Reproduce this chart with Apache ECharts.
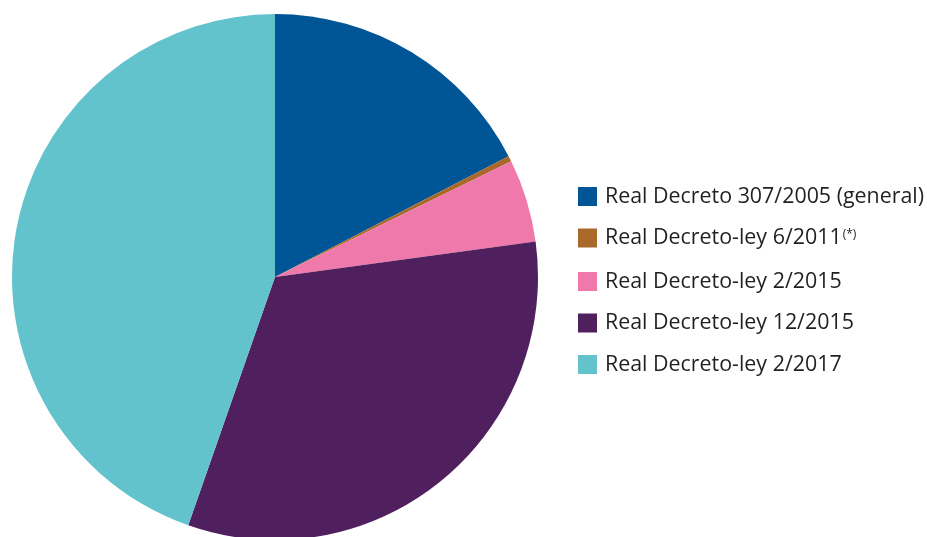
<!DOCTYPE html>
<html><head><meta charset="utf-8">
<script src="https://cdn.jsdelivr.net/npm/echarts@6/dist/echarts.min.js"></script>
<style>html,body{margin:0;padding:0;background:#fff}#c{width:927px;height:537px}</style>
</head><body><div id="c"></div>
<script>
const categories = ['Real Decreto 307/2005 (general)', 'Real Decreto-ley 6/2011', 'Real Decreto-ley 2/2015', 'Real Decreto-ley 12/2015', 'Real Decreto-ley 2/2017'];
const values = [17.4, 0.35, 5.1, 32.5, 44.65];
const colors = ['#005596', '#a8692a', '#ef79ab', '#4f1f5e', '#62c3cc'];
const notes = ['', '(*)', '', '', ''];

const chart = echarts.init(document.getElementById('c'), null, {renderer: 'canvas'});
chart.setOption({
  animation: false,
  color: colors,
  legend: {
    orient: 'vertical',
    left: 578,
    top: 186,
    padding: 0,
    itemWidth: 19,
    itemHeight: 19,
    itemGap: 20.5,
    icon: 'rect',
    formatter: function (name) {
      const i = categories.indexOf(name);
      return notes[i] ? '{a|' + name + '}{s|' + notes[i] + '}' : '{a|' + name + '}';
    },
    textStyle: {
      fontFamily: 'Open Sans',
      fontSize: 21.4,
      color: '#231f20',
      padding: [0, 0, 0, 3],
      rich: {
        a: {fontFamily: 'Open Sans', fontSize: 21.4, color: '#231f20', lineHeight: 19},
        s: {fontFamily: 'Open Sans', fontSize: 12, color: '#231f20', lineHeight: 19, verticalAlign: 'top', padding: [0, 0, 10, 1]}
      }
    }
  },
  series: [{
    type: 'pie',
    center: [275, 277],
    radius: 263,
    startAngle: 90,
    clockwise: true,
    label: {show: false},
    labelLine: {show: false},
    emphasis: {disabled: true},
    data: categories.map((c, i) => ({name: c, value: values[i]}))
  }]
});
</script></body></html>
